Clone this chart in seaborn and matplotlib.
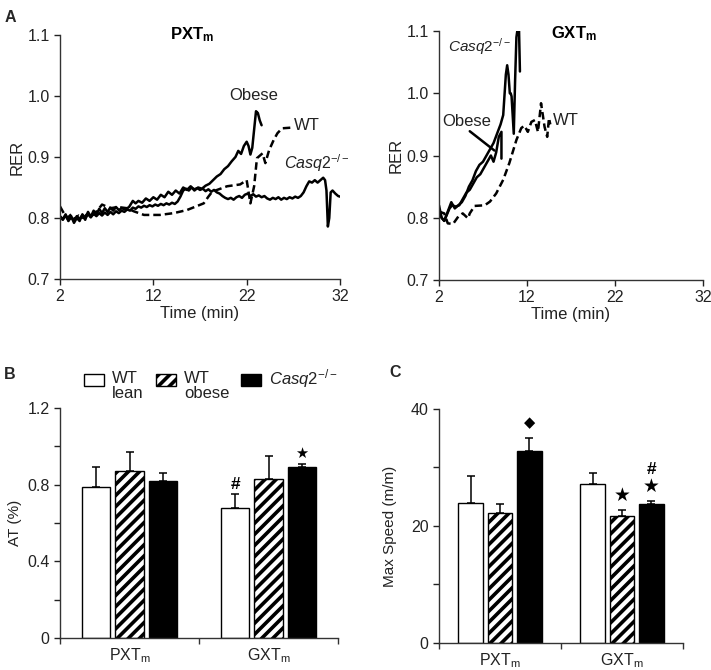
import numpy as np
import pandas as pd
import matplotlib
matplotlib.use("Agg")
import matplotlib.pyplot as plt
from matplotlib.patches import Rectangle
from matplotlib.legend_handler import HandlerPatch
import seaborn as sns

# ---------------- data ----------------
# Panel A, PXTm
pxt_obese_t = [2.0, 2.3, 2.6, 2.9, 3.2, 3.5, 3.8, 4.1, 4.4, 4.7, 5.0, 5.3, 5.6, 5.9, 6.2, 6.5, 6.8, 7.1,
               7.4, 7.7, 8.0, 8.3, 8.6, 9.0, 9.4, 9.8, 10.1, 10.4, 10.8, 11.2, 11.6, 12.0, 12.4, 12.8,
               13.2, 13.6, 14.0, 14.4, 14.8, 15.2, 15.6, 16.0, 16.4, 16.8, 17.2, 17.6, 18.0, 18.4, 18.8,
               19.2, 19.6, 20.0, 20.4, 20.8, 21.1, 21.4, 21.7, 22.0, 22.2, 22.4, 22.6, 22.8, 23.0, 23.2,
               23.4, 23.6]
pxt_obese_v = [0.803, 0.798, 0.806, 0.795, 0.803, 0.792, 0.800, 0.795, 0.806, 0.797, 0.810, 0.802, 0.812,
               0.806, 0.815, 0.808, 0.816, 0.810, 0.817, 0.812, 0.818, 0.813, 0.816, 0.814, 0.818, 0.828,
               0.824, 0.828, 0.825, 0.832, 0.828, 0.834, 0.830, 0.838, 0.834, 0.843, 0.838, 0.845, 0.840,
               0.850, 0.846, 0.852, 0.845, 0.850, 0.848, 0.853, 0.856, 0.862, 0.868, 0.872, 0.880, 0.885,
               0.893, 0.900, 0.910, 0.905, 0.918, 0.925, 0.918, 0.904, 0.915, 0.945, 0.975, 0.972, 0.960,
               0.952]
pxt_wt_t = [2.0, 2.4, 2.8, 3.2, 3.6, 4.0, 4.5, 5.0, 5.5, 6.0, 6.5, 7.4, 8.2, 9.2, 9.9, 11.0, 12.7, 14.2,
            15.6, 17.4, 17.9, 18.3, 19.9, 21.3, 22.0, 22.4, 22.8, 23.1, 23.7, 24.0, 24.4, 24.9, 25.3,
            25.8, 26.7]
pxt_wt_v = [0.819, 0.808, 0.800, 0.806, 0.798, 0.804, 0.800, 0.808, 0.805, 0.812, 0.822, 0.816, 0.818,
            0.816, 0.811, 0.805, 0.805, 0.808, 0.813, 0.824, 0.835, 0.843, 0.852, 0.855, 0.862, 0.824,
            0.852, 0.898, 0.906, 0.890, 0.911, 0.928, 0.939, 0.947, 0.948]
pxt_casq_t = [2.0, 2.3, 2.6, 2.9, 3.2, 3.5, 3.8, 4.1, 4.4, 4.7, 5.0, 5.3, 5.6, 5.9, 6.2, 6.5, 6.8, 7.1,
              7.4, 7.7, 8.0, 8.3, 8.6, 8.9, 9.2, 9.5, 9.8, 10.1, 10.4, 10.7, 11.0, 11.3, 11.6, 11.9,
              12.2, 12.5, 12.8, 13.1, 13.4, 13.7, 14.0, 14.3, 14.6, 14.9, 15.2, 15.5, 15.8, 16.1, 16.4,
              16.7, 17.0, 17.3, 17.6, 17.9, 18.2, 18.5, 18.8, 19.1, 19.4, 19.7, 20.0, 20.3, 20.6, 20.9,
              21.2, 21.5, 21.8, 22.1, 22.4, 22.7, 23.0, 23.3, 23.6, 23.9, 24.2, 24.5, 24.8, 25.1, 25.4,
              25.7, 26.0, 26.3, 26.6, 26.9, 27.2, 27.5, 27.8, 28.1, 28.4, 28.7, 29.0, 29.3, 29.6, 29.9,
              30.2, 30.4, 30.55, 30.7, 30.85, 31.0, 31.2, 31.5, 31.8, 32.0]
pxt_casq_v = [0.802, 0.797, 0.804, 0.796, 0.801, 0.795, 0.803, 0.798, 0.805, 0.800, 0.806, 0.801, 0.807,
              0.803, 0.808, 0.804, 0.809, 0.805, 0.810, 0.806, 0.811, 0.808, 0.812, 0.810, 0.814, 0.812,
              0.817, 0.815, 0.819, 0.817, 0.820, 0.818, 0.821, 0.819, 0.822, 0.820, 0.823, 0.821, 0.824,
              0.822, 0.825, 0.823, 0.827, 0.835, 0.845, 0.848, 0.845, 0.850, 0.847, 0.849, 0.846, 0.848,
              0.844, 0.847, 0.843, 0.846, 0.842, 0.840, 0.836, 0.833, 0.831, 0.833, 0.830, 0.834, 0.836,
              0.833, 0.838, 0.840, 0.836, 0.839, 0.835, 0.837, 0.834, 0.836, 0.832, 0.830, 0.833, 0.831,
              0.834, 0.830, 0.833, 0.831, 0.834, 0.832, 0.835, 0.833, 0.836, 0.842, 0.852, 0.860, 0.858,
              0.862, 0.858, 0.862, 0.866, 0.862, 0.845, 0.786, 0.800, 0.842, 0.845, 0.840, 0.836, 0.835]

# Panel A, GXTm
gxt_casq_t = [2.0, 2.3, 2.6, 3.0, 3.4, 3.8, 4.2, 4.6, 5.0, 5.4, 5.8, 6.2, 6.6, 7.0, 7.4, 7.8, 8.2, 8.6,
              9.0, 9.3, 9.6, 9.75, 9.9, 10.05, 10.15, 10.25, 10.5, 10.65, 10.8, 10.9, 11.1, 11.2]
gxt_casq_v = [0.820, 0.800, 0.795, 0.810, 0.825, 0.815, 0.820, 0.825, 0.835, 0.850, 0.860, 0.875, 0.885,
              0.890, 0.900, 0.910, 0.920, 0.935, 0.950, 0.965, 1.030, 1.045, 1.030, 1.000, 1.000, 0.995,
              0.935, 1.020, 1.090, 1.100, 1.100, 1.035]
gxt_obese_t = [2.0, 2.3, 2.6, 2.9, 3.2, 3.5, 3.9, 4.3, 4.7, 5.1, 5.5, 5.9, 6.3, 6.7, 7.1, 7.5, 7.9, 8.2,
               8.5, 8.8, 9.1, 9.1]
gxt_obese_v = [0.810, 0.800, 0.795, 0.805, 0.815, 0.820, 0.818, 0.820, 0.830, 0.840, 0.845, 0.855, 0.865,
               0.870, 0.880, 0.890, 0.900, 0.890, 0.905, 0.930, 0.938, 0.895]
gxt_wt_t = [2.0, 2.6, 3.0, 3.6, 4.2, 4.7, 5.3, 5.5, 6.05, 7.2, 7.8, 8.5, 9.3, 10.0, 10.8, 11.35, 11.7,
            12.1, 12.5, 12.9, 13.25, 13.6, 14.0, 14.3, 14.5, 14.65]
gxt_wt_v = [0.810, 0.807, 0.791, 0.790, 0.802, 0.807, 0.799, 0.807, 0.819, 0.820, 0.826, 0.839, 0.861,
            0.888, 0.925, 0.944, 0.948, 0.938, 0.954, 0.957, 0.938, 0.984, 0.946, 0.930, 0.960, 0.950]

# Panels B and C
tests = ["PXT$_\\mathregular{m}$", "GXT$_\\mathregular{m}$"]
groups = ["WT\nlean", "WT\nobese", "$\\mathit{Casq2}^{\\mathit{-/-}}$\n "]
at_mean = {groups[0]: [0.79, 0.68], groups[1]: [0.87, 0.83], groups[2]: [0.82, 0.89]}
at_err = {groups[0]: [0.10, 0.07], groups[1]: [0.10, 0.12], groups[2]: [0.04, 0.02]}
speed_mean = {groups[0]: [24.0, 27.2], groups[1]: [22.3, 21.7], groups[2]: [32.9, 23.7]}
speed_err = {groups[0]: [4.5, 1.9], groups[1]: [1.5, 1.1], groups[2]: [2.1, 0.6]}

# ---------------- style ----------------
sns.set_style("ticks")
plt.rcParams["font.family"] = ["Liberation Sans", "DejaVu Sans"]
plt.rcParams["mathtext.fontset"] = "custom"
plt.rcParams["mathtext.rm"] = "Liberation Sans"
plt.rcParams["mathtext.it"] = "Liberation Sans:italic"
plt.rcParams["mathtext.bf"] = "Liberation Sans:bold"
plt.rcParams["hatch.linewidth"] = 2.6
TXT = "#222222"
FS = 11.5

fig = plt.figure(figsize=(7.11, 6.70), dpi=100)
axA1 = fig.add_axes([0.0844, 0.5836, 0.3938, 0.3642])
axA2 = fig.add_axes([0.6174, 0.5821, 0.3713, 0.3716])
axB = fig.add_axes([0.0844, 0.0478, 0.391, 0.3433])
axC = fig.add_axes([0.6174, 0.0403, 0.3432, 0.3493])


def line_df(series):
    rows = []
    for name, t, v in series:
        for ti, vi in zip(t, v):
            rows.append((name, ti, vi))
    return pd.DataFrame(rows, columns=["group", "time", "rer"])


dashes = {"Obese": "", "WT": (3, 1.6), "Casq2": ""}
pal = {"Obese": "black", "WT": "black", "Casq2": "black"}

dfA1 = line_df([("Obese", pxt_obese_t, pxt_obese_v), ("WT", pxt_wt_t, pxt_wt_v),
                ("Casq2", pxt_casq_t, pxt_casq_v)])
dfA2 = line_df([("Obese", gxt_obese_t, gxt_obese_v), ("WT", gxt_wt_t, gxt_wt_v),
                ("Casq2", gxt_casq_t, gxt_casq_v)])

for ax, df in [(axA1, dfA1), (axA2, dfA2)]:
    sns.lineplot(data=df, x="time", y="rer", hue="group", style="group", palette=pal,
                 dashes=dashes, estimator=None, sort=False, legend=False, lw=1.8, ax=ax)
    ax.set_xlim(2, 32)
    ax.set_ylim(0.7, 1.1)
    ax.set_xticks([2, 12, 22, 32])
    ax.set_yticks([0.7, 0.8, 0.9, 1.0, 1.1])
    ax.set_yticklabels(["0.7", "0.8", "0.9", "1.0", "1.1"])
    ax.set_xlabel("Time (min)", fontsize=FS + 0.5, color=TXT, labelpad=1)
    ax.set_ylabel("RER", fontsize=FS + 0.5, color=TXT, labelpad=2)
    ax.tick_params(labelsize=FS, colors=TXT, length=4, width=1)
    for s in ["top", "right"]:
        ax.spines[s].set_visible(False)
    for s in ["left", "bottom"]:
        ax.spines[s].set_color("#333333")
        ax.spines[s].set_linewidth(1)

# annotations panel A
axA1.text(0.47, 1.0, "$\\mathbf{PXT}_\\mathbf{m}$", transform=axA1.transAxes, ha="center", va="center",
          fontsize=FS + 0.5, color="black")
axA1.text(22.8, 1.0, "Obese", ha="center", va="center", fontsize=FS + 0.5, color=TXT)
axA1.text(27.1, 0.952, "WT", ha="left", va="center", fontsize=FS + 0.5, color=TXT)
axA1.text(26.0, 0.89, "$\\mathit{Casq2}^{\\mathit{-/-}}$", ha="left", va="center", fontsize=FS,
          color=TXT)

axA2.text(0.51, 0.99, "$\\mathbf{GXT}_\\mathbf{m}$", transform=axA2.transAxes, ha="center", va="center",
          fontsize=FS + 0.5, color="black")
axA2.text(3.0, 1.075, "$\\mathit{Casq2}^{\\mathit{-/-}}$", ha="left", va="center", fontsize=FS - 0.5,
          color=TXT)
axA2.text(2.35, 0.955, "Obese", ha="left", va="center", fontsize=FS + 0.5, color=TXT)
axA2.text(14.9, 0.957, "WT", ha="left", va="center", fontsize=FS + 0.5, color=TXT)
axA2.annotate("", xy=(8.3, 0.908), xytext=(5.5, 0.939),
              arrowprops=dict(arrowstyle="-", lw=1.8, color="black", shrinkA=0, shrinkB=0))


# ---------------- bars ----------------
def bar_panel(ax, mean, err, ylim, major, minor, ylabel, lpad):
    rows = []
    for g in groups:
        for t, m in zip(tests, mean[g]):
            rows.append((t, g, m))
    df = pd.DataFrame(rows, columns=["test", "group", "value"])
    palette = {groups[0]: "white", groups[1]: "white", groups[2]: "black"}
    sns.barplot(data=df, x="test", y="value", hue="group", hue_order=groups, order=tests,
                palette=palette, edgecolor="black", linewidth=1.0, width=0.72, gap=0.15,
                errorbar=None, ax=ax, legend=False)
    bars = list(ax.containers)
    for gi, cont in enumerate(bars):
        g = groups[gi]
        for p, e in zip(cont.patches, err[g]):
            if gi == 1:
                p.set_hatch("///")
            xc = p.get_x() + p.get_width() / 2
            ax.errorbar([xc], [p.get_height()], yerr=[[0], [e]], fmt="none", ecolor="black",
                        elinewidth=1.1, capsize=3.0, capthick=1.1, zorder=1)
    ax.set_xlim(-0.5, 1.5)
    ax.set_ylim(*ylim)
    ax.set_yticks(major)
    ax.set_yticks(minor, minor=True)
    ax.set_xticks([-0.5, 0.5, 1.5], minor=True)
    ax.tick_params(axis="x", which="major", length=0, labelsize=FS, colors=TXT, pad=6)
    ax.tick_params(axis="x", which="minor", length=4, width=1, colors="#333333")
    ax.tick_params(axis="y", which="both", length=4, width=1, labelsize=FS, colors=TXT)
    ax.set_xlabel("")
    ax.set_ylabel(ylabel, fontsize=FS - 0.5, color=TXT, labelpad=lpad)
    for s in ["top", "right"]:
        ax.spines[s].set_visible(False)
    for s in ["left", "bottom"]:
        ax.spines[s].set_color("#333333")
        ax.spines[s].set_linewidth(1)
    return bars


barsB = bar_panel(axB, at_mean, at_err, (0, 1.2), [0, 0.4, 0.8, 1.2], [0.2, 0.6, 1.0], "AT (%)", 4)
axB.set_yticklabels(["0", "0.4", "0.8", "1.2"])
barsC = bar_panel(axC, speed_mean, speed_err, (0, 40), [0, 20, 40], [10, 30], "Max Speed (m/m)", 10)


# significance markers
def mark(ax, bars, gi, ti, dy, s, fs, **kw):
    p = bars[gi].patches[ti]
    ax.text(p.get_x() + p.get_width() / 2, dy, s, ha="center", va="center", fontsize=fs,
            color="black", **kw)


mark(axB, barsB, 0, 1, 0.80, "#", FS + 1, fontweight="bold")
mark(axB, barsB, 2, 1, 0.965, "★", FS - 1, family="DejaVu Sans")
mark(axC, barsC, 2, 0, 37.6, "◆", FS - 1, family="DejaVu Sans")
mark(axC, barsC, 1, 1, 25.3, "★", FS + 2, family="DejaVu Sans")
mark(axC, barsC, 2, 1, 26.8, "★", FS + 2, family="DejaVu Sans")
mark(axC, barsC, 2, 1, 29.6, "#", FS + 1, fontweight="bold")


# legend: square aligned with the first text line
def top_square(legend, orig_handle, xdescent, ydescent, width, height, fontsize):
    h = 0.72 * fontsize
    return Rectangle((-xdescent, -ydescent + height - h), width, h)


handles = [barsB[i].patches[0] for i in range(3)]
leg = fig.legend(handles, groups, loc="upper left", bbox_to_anchor=(0.118, 0.452), ncol=3,
                 frameon=False, fontsize=FS + 0.5, handlelength=1.2, handleheight=1.9,
                 handletextpad=0.5, columnspacing=0.7, borderpad=0, borderaxespad=0,
                 labelspacing=0.2, handler_map={Rectangle: HandlerPatch(patch_func=top_square)})
for t in leg.get_texts():
    t.set_color(TXT)
    t.set_linespacing(1.0)

# panel letters
fig.text(0.006, 0.985, "A", fontsize=FS, fontweight="bold", va="top")
fig.text(0.006, 0.452, "B", fontsize=FS, fontweight="bold", va="top")
fig.text(0.547, 0.455, "C", fontsize=FS, fontweight="bold", va="top")

fig.savefig("out.png", dpi=100)
